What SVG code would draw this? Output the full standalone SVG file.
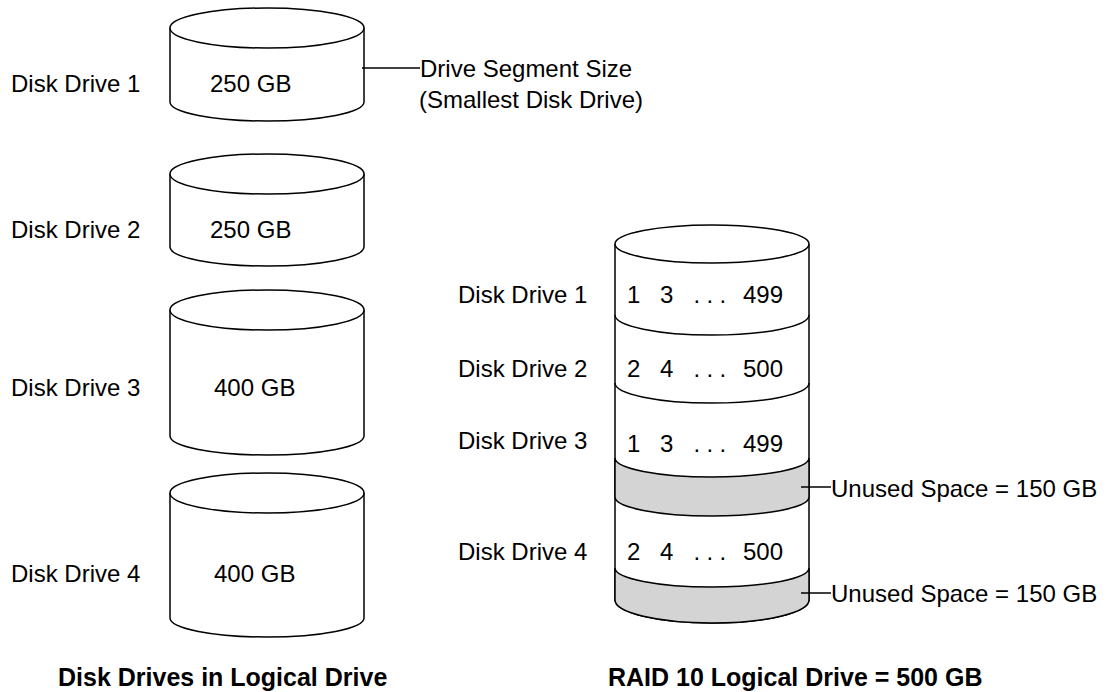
<svg xmlns="http://www.w3.org/2000/svg" width="1109" height="692" viewBox="0 0 1109 692">
<style>
.t{font-family:"Liberation Sans",Arial,sans-serif;font-size:24px;fill:#000}
.b{font-family:"Liberation Sans",Arial,sans-serif;font-size:25px;font-weight:bold;fill:#000}
.s{fill:#fff;stroke:#000;stroke-width:1.5}
.g{fill:#d4d4d4;stroke:#000;stroke-width:1.5}
.l{fill:none;stroke:#000;stroke-width:1.5}
</style>
<rect width="1109" height="692" fill="#fff"/>
<g id="drive1">
<path class="s" d="M170,28 V102 A97,19 0 0 0 364,102 V28"/>
<ellipse class="s" cx="267" cy="28" rx="97" ry="20"/>
<text class="t" x="11" y="92">Disk Drive 1</text>
<text class="t" x="210" y="92">250 GB</text>
</g>
<g id="drive2">
<path class="s" d="M170,174 V247 A97,19 0 0 0 364,247 V174"/>
<ellipse class="s" cx="267" cy="174" rx="97" ry="20"/>
<text class="t" x="11" y="238">Disk Drive 2</text>
<text class="t" x="210" y="238">250 GB</text>
</g>
<g id="drive3">
<path class="s" d="M170,310 V436 A97,19 0 0 0 364,436 V310"/>
<ellipse class="s" cx="267" cy="310" rx="97" ry="20"/>
<text class="t" x="11" y="396">Disk Drive 3</text>
<text class="t" x="214" y="396">400 GB</text>
</g>
<g id="drive4">
<path class="s" d="M170,493 V618 A97,19 0 0 0 364,618 V493"/>
<ellipse class="s" cx="267" cy="493" rx="97" ry="20"/>
<text class="t" x="11" y="582">Disk Drive 4</text>
<text class="t" x="214" y="582">400 GB</text>
</g>
<g id="raid">
<path class="s" d="M615,244 V600 A97,23 0 0 0 809,600 V244"/>
<path class="g" d="M615,458 A97,19 0 0 0 809,458 V497 A97,19 0 0 1 615,497 Z"/>
<path class="g" d="M615,568 A97,19 0 0 0 809,568 V600 A97,23 0 0 1 615,600 Z"/>
<ellipse class="s" cx="712" cy="244" rx="97" ry="19"/>
<path class="l" d="M615,315 A97,20 0 0 0 809,315"/>
<path class="l" d="M615,383 A97,20 0 0 0 809,383"/>
<text class="t" y="303"><tspan x="627">1</tspan><tspan x="660">3</tspan><tspan x="693.5">.</tspan><tspan x="706.5">.</tspan><tspan x="719.5">.</tspan><tspan x="743">499</tspan></text>
<text class="t" y="377"><tspan x="627">2</tspan><tspan x="660">4</tspan><tspan x="693.5">.</tspan><tspan x="706.5">.</tspan><tspan x="719.5">.</tspan><tspan x="743">500</tspan></text>
<text class="t" y="452"><tspan x="627">1</tspan><tspan x="660">3</tspan><tspan x="693.5">.</tspan><tspan x="706.5">.</tspan><tspan x="719.5">.</tspan><tspan x="743">499</tspan></text>
<text class="t" y="560"><tspan x="627">2</tspan><tspan x="660">4</tspan><tspan x="693.5">.</tspan><tspan x="706.5">.</tspan><tspan x="719.5">.</tspan><tspan x="743">500</tspan></text>
</g>
<g id="raid-labels">
<text class="t" x="458" y="303">Disk Drive 1</text>
<text class="t" x="458" y="377">Disk Drive 2</text>
<text class="t" x="458" y="449">Disk Drive 3</text>
<text class="t" x="458" y="560">Disk Drive 4</text>
</g>
<g id="connectors">
<line class="l" x1="362" y1="68" x2="420" y2="68"/>
<line class="l" x1="801" y1="487" x2="831" y2="487"/>
<line class="l" x1="801" y1="593" x2="831" y2="593"/>
</g>
<g id="annotations">
<text class="t" x="420" y="77">Drive Segment Size</text>
<text class="t" x="419" y="108">(Smallest Disk Drive)</text>
<text class="t" x="831" y="497">Unused Space = 150 GB</text>
<text class="t" x="831" y="602">Unused Space = 150 GB</text>
</g>
<g id="captions">
<text class="b" x="58" y="686">Disk Drives in Logical Drive</text>
<text class="b" x="608" y="686">RAID 10 Logical Drive = 500 GB</text>
</g>
</svg>
